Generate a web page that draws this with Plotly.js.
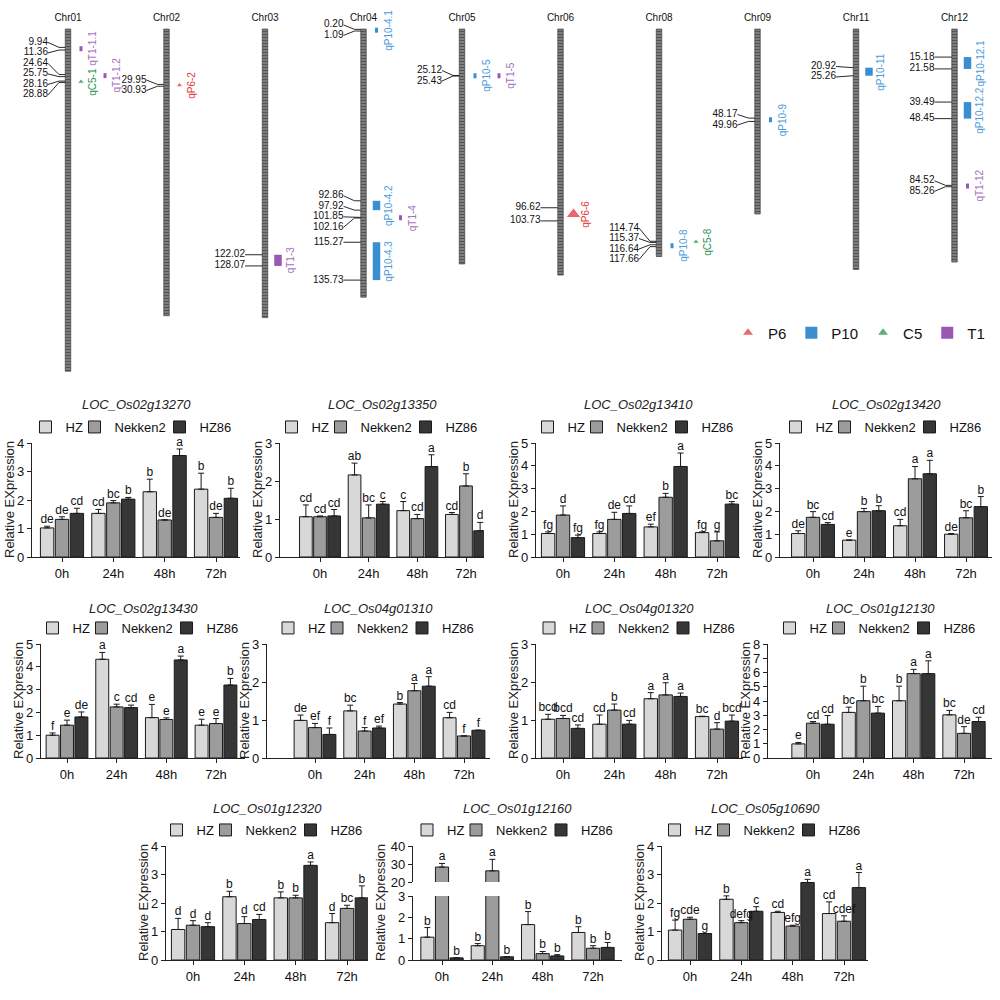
<!DOCTYPE html>
<html><head><meta charset="utf-8">
<script src="https://cdn.plot.ly/plotly-3.0.1.min.js"></script>
<style>html,body{margin:0;padding:0;background:#fff}#chart{width:1000px;height:1000px}</style>
</head><body><div id="chart"></div>
<script>
// ================= DATA: chromosome / QTL map =================
const chrNames  = ['Chr01','Chr02','Chr03','Chr04','Chr05','Chr06','Chr08','Chr09','Chr11','Chr12'];
const chrLength = [185, 155, 156, 145, 127, 133, 123, 100, 130, 126];

const qtlNames = ['qT1-1.1','qT1-1.2','qC5-1','qP6-2','qT1-3','qP10-4.1','qP10-4.2','qT1-4','qP10-4.3','qP10-5','qT1-5','qP6-6','qP10-8','qC5-8','qP10-9','qP10-11','qP10-12.1','qP10-12.2','qT1-12'];
const qtlChr   = ['Chr01','Chr01','Chr01','Chr02','Chr03','Chr04','Chr04','Chr04','Chr04','Chr05','Chr05','Chr06','Chr08','Chr08','Chr09','Chr11','Chr12','Chr12','Chr12'];
const qtlStart = [9.94, 24.64, 28.16, 29.95, 122.02, 0.20, 92.86, 101.85, 115.27, 25.12, 25.12, 96.62, 116.64, 114.74, 48.17, 20.92, 15.18, 39.49, 84.52];
const qtlEnd   = [11.36, 25.75, 28.88, 30.93, 128.07, 1.09, 97.92, 102.16, 135.73, 25.43, 25.43, 103.73, 117.66, 115.37, 49.96, 25.26, 21.58, 48.45, 85.26];
const qtlTrait = ['T1','T1','C5','P6','T1','P10','P10','T1','P10','P10','T1','P6','P10','C5','P10','P10','P10','P10','T1'];
const traitNames = ['P6','P10','C5','T1'];

// ================= DATA: relative expression =================
const timePoints = ['0h','24h','48h','72h'];
const lineNames  = ['HZ','Nekken2','HZ86'];
const genes = ['LOC_Os02g13270','LOC_Os02g13350','LOC_Os02g13410','LOC_Os02g13420',
               'LOC_Os02g13430','LOC_Os04g01310','LOC_Os04g01320','LOC_Os01g12130',
               'LOC_Os01g12320','LOC_Os01g12160','LOC_Os05g10690'];
const yMax = [4, 3, 5, 5, 5, 3, 3, 8, 4, 3, 4];
const brokenUpper = [null,null,null,null,null,null,null,null,null,[20,40],null];

const meanHZ = [
  [1.02,1.53,2.29,2.38],[1.06,2.16,1.22,1.12],[1.03,1.03,1.32,1.07],[1.03,0.74,1.37,1.00],
  [1.00,4.33,1.77,1.44],[0.99,1.24,1.42,1.06],[1.02,0.89,1.56,1.09],[0.99,3.20,4.02,3.03],
  [1.07,2.22,2.18,1.31],[1.07,0.67,1.66,1.29],[1.05,2.13,1.67,1.63]];
const errHZ = [
  [0.06,0.14,0.44,0.56],[0.31,0.31,0.24,0.05],[0.07,0.07,0.12,0.03],[0.12,0.00,0.28,0.03],
  [0.10,0.30,0.58,0.26],[0.14,0.15,0.04,0.14],[0.13,0.24,0.16,0.01],[0.10,0.37,1.02,0.31],
  [0.39,0.19,0.21,0.32],[0.45,0.10,0.61,0.27],[0.35,0.12,0.04,0.41]];
const letHZ = [
  ['de','cd','b','b'],['cd','ab','c','cd'],['fg','fg','ef','fg'],['de','e','cd','de'],
  ['f','a','e','e'],['de','bc','b','cd'],['bcd','cd','a','bc'],['e','bc','b','bc'],
  ['d','b','b','d'],['b','b','b','b'],['fg','b','cd','cd']];

const meanNekken2 = [
  [1.32,1.90,1.30,1.39],[1.06,1.03,1.01,1.87],[1.84,1.65,2.62,0.71],[1.74,1.99,3.43,1.72],
  [1.44,2.24,1.69,1.51],[0.80,0.71,1.77,0.58],[1.04,1.26,1.66,0.76],[2.44,4.02,5.92,1.73],
  [1.22,1.28,2.18,1.81],[28.3,26.2,0.30,0.55],[1.43,1.31,1.19,1.36]];
const errNekken2 = [
  [0.09,0.08,0.00,0.14],[0.02,0.34,0.11,0.32],[0.40,0.31,0.17,0.39],[0.25,0.14,0.54,0.31],
  [0.22,0.12,0.07,0.22],[0.11,0.09,0.19,0.00],[0.08,0.16,0.32,0.17],[0.12,1.02,0.30,0.47],
  [0.16,0.24,0.09,0.11],[2.0,6.4,0.10,0.12],[0.07,0.07,0.03,0.19]];
const letNekken2 = [
  ['de','bc','de','de'],['cd','bc','cd','b'],['d','de','b','g'],['bc','b','a','bc'],
  ['e','c','e','e'],['ef','f','a','f'],['bcd','b','a','d'],['cd','b','a','de'],
  ['d','d','b','bc'],['a','a','b','b'],['cde','defg','efg','cdef']];

const meanHZ86 = [
  [1.53,2.03,3.56,2.06],[1.08,1.39,2.38,0.69],[0.85,1.91,3.97,2.32],[1.43,2.03,3.65,2.21],
  [1.80,2.21,4.30,3.20],[0.62,0.79,1.89,0.73],[0.78,0.89,1.62,0.97],[2.37,3.15,5.92,2.56],
  [1.17,1.42,3.32,2.18],[0.10,0.15,0.19,0.59],[0.93,1.71,2.72,2.54]];
const errHZ86 = [
  [0.18,0.06,0.23,0.35],[0.17,0.07,0.31,0.22],[0.11,0.33,0.59,0.11],[0.08,0.22,0.59,0.44],
  [0.22,0.11,0.17,0.29],[0.17,0.05,0.25,0.00],[0.09,0.10,0.09,0.16],[0.61,0.47,0.90,0.30],
  [0.14,0.18,0.12,0.42],[0.00,0.00,0.06,0.23],[0.00,0.16,0.11,0.53]];
const letHZ86 = [
  ['cd','b','a','b'],['cd','c','a','d'],['fg','cd','a','bc'],['cd','b','a','b'],
  ['de','cd','a','b'],['f','ef','a','f'],['cd','cd','a','bcd'],['cd','bc','a','cd'],
  ['d','cd','a','b'],['b','b','b','b'],['g','c','a','a']];

// ================= LAYOUT CONSTANTS =================
const FONT = 'Arial, "Liberation Sans", sans-serif';
const W = 1000, H = 1000;
const px = v => v / W;
const py = v => 1 - v / H;
const lineColors = ['#d8d8d8', '#9c9c9c', '#363636'];
const legendEntryWidth = [4, 40, 34];
const traitColor = {P6:'#dc2a2e', P10:'#3b8fd1', C5:'#1d8a4b', T1:'#9a58b4'};
const traitLabelColor = {P6:'#e0393c', P10:'#4c9bd8', C5:'#2a9257', T1:'#a66fc2'};

// panel boxes in pixels: axis left/right, first/last group centre, top/bottom
const panels = [
  {x0:32, x1:240, c0:62,  c3:216, top:443, bottom:557, row:0},
  {x0:280,x1:484, c0:320, c3:466, top:443, bottom:557, row:0},
  {x0:536,x1:740, c0:563, c3:717, top:443, bottom:557, row:0},
  {x0:780,x1:992, c0:813, c3:966, top:443, bottom:557, row:0},
  {x0:41, x1:245, c0:67,  c3:216, top:644, bottom:758, row:1},
  {x0:267,x1:490, c0:315, c3:464, top:644, bottom:758, row:1},
  {x0:536,x1:743, c0:563, c3:717, top:644, bottom:758, row:1},
  {x0:768,x1:992, c0:813, c3:964, top:644, bottom:758, row:1},
  {x0:166,x1:368, c0:193, c3:347, top:846, bottom:960, row:2},
  {x0:413,x1:622, c0:442, c3:593, top:846, bottom:960, row:2, upperBottom:882, lowerTop:896},
  {x0:662,x1:868, c0:690, c3:844, top:846, bottom:960, row:2}
];
const rowTitleY  = [404, 608, 808];
const rowLegendY = [427, 628, 830];

const BARGAP = 0.13, BARGROUPGAP = 0.1;
const SLOT = (1 - BARGAP) / 3;

const traces = [];
const annotations = [];
const layout = {
  width: W, height: H,
  margin: {l:0, r:0, t:0, b:0},
  paper_bgcolor: '#fff', plot_bgcolor: 'rgba(0,0,0,0)',
  font: {family: FONT, color: '#111'},
  barmode: 'group', bargap: BARGAP, bargroupgap: BARGROUPGAP,
  hovermode: false,
  showlegend: true
};

const means = [meanHZ, meanNekken2, meanHZ86];
const errs  = [errHZ, errNekken2, errHZ86];
const lets  = [letHZ, letNekken2, letHZ86];

function axisStyle() {
  return {ticks:'outside', ticklen:4, tickwidth:1, tickcolor:'#222', showline:true,
          linecolor:'#222', linewidth:1.2, showgrid:false, zeroline:false,
          tickfont:{size:13, color:'#111', family:FONT}, fixedrange:true};
}

genes.forEach((gene, p) => {
  const g = panels[p];
  const s = (g.c3 - g.c0) / 3;
  const xRange = [-(g.c0 - g.x0) / s, 3 + (g.x1 - g.c3) / s];
  const n = p + 1;
  const sfx = n === 1 ? '' : String(n);
  const xr = 'x' + sfx, yr = 'y' + sfx;
  const legendId = 'legend' + sfx;
  const upper = brokenUpper[p];
  const lowTop = upper ? g.lowerTop : g.top;

  layout['xaxis' + sfx] = Object.assign(axisStyle(), {
    domain: [px(g.x0), px(g.x1)], range: xRange, anchor: yr,
    tickvals: [0,1,2,3], ticktext: timePoints
  });
  layout['yaxis' + sfx] = Object.assign(axisStyle(), {
    domain: [py(g.bottom), py(lowTop)], range: [0, yMax[p]], dtick: 1, anchor: xr
  });
  if (upper) {
    layout.xaxis12 = {domain: [px(g.x0), px(g.x1)], range: xRange, anchor: 'y12', visible: false, fixedrange: true};
    layout.yaxis12 = Object.assign(axisStyle(), {
      domain: [py(g.upperBottom), py(g.top)], range: upper, dtick: 10, anchor: 'x12'
    });
  }

  lineNames.forEach((ln, j) => {
    const base = {
      type: 'bar', name: ln, x: [0,1,2,3], y: means[j][p],
      marker: {color: lineColors[j], line: {color: '#1a1a1a', width: 1}},
      error_y: {type: 'data', symmetric: false, array: errs[j][p], arrayminus: [0,0,0,0],
                color: '#1a1a1a', thickness: 1, width: 3, visible: true},
      hoverinfo: 'skip'
    };
    traces.push(Object.assign({}, base, {xaxis: xr, yaxis: yr, legend: legendId,
      legendwidth: legendEntryWidth[j], showlegend: true}));
    if (upper) traces.push(Object.assign({}, base, {xaxis: 'x12', yaxis: 'y12', showlegend: false}));

    const lo = {x: [], y: [], t: []}, hi = {x: [], y: [], t: []};
    for (let i = 0; i < 4; i++) {
      const topV = means[j][p][i] + errs[j][p][i];
      const tgt = (upper && topV > yMax[p]) ? hi : lo;
      tgt.x.push(i + (j - 1) * SLOT); tgt.y.push(topV); tgt.t.push(lets[j][p][i]);
    }
    const mk = (d, xa, ya) => ({type: 'scatter', mode: 'text', x: d.x, y: d.y, text: d.t,
      textposition: 'top center', textfont: {size: 12, color: '#111', family: FONT},
      cliponaxis: false, showlegend: false, hoverinfo: 'skip', xaxis: xa, yaxis: ya});
    if (lo.x.length) traces.push(mk(lo, xr, yr));
    if (hi.x.length) traces.push(mk(hi, 'x12', 'y12'));
  });

  layout[legendId] = {
    orientation: 'h', x: px((g.x0 + g.x1) / 2 - 4), xanchor: 'center',
    y: py(rowLegendY[g.row]), yanchor: 'middle',
    font: {size: 13, color: '#111', family: FONT}, bgcolor: 'rgba(0,0,0,0)',
    itemwidth: 30, tracegroupgap: 0, traceorder: 'normal', itemclick: false, itemdoubleclick: false
  };

  annotations.push({xref: 'paper', yref: 'paper', x: px((g.x0 + g.x1) / 2), y: py(rowTitleY[g.row]),
    text: '<i>' + gene + '</i>', showarrow: false, xanchor: 'center', yanchor: 'middle',
    font: {size: 13, color: '#222', family: FONT}});
  annotations.push({xref: 'paper', yref: 'paper', x: px(g.x0 - (yMax[p] >= 10 || upper ? 33 : 23)),
    y: py((g.top + g.bottom) / 2), text: 'Relative EXpression', textangle: -90, showarrow: false,
    xanchor: 'center', yanchor: 'middle', font: {size: 13, color: '#222', family: FONT}});
});

// ================= MAP =================
const MAP_X0 = 68, MAP_DX = 98.5;          // pixel of Chr01 centre, spacing
const MAP_Y0 = 29, MAP_DY = 1.85;          // pixel of position 0, px per unit
const MAP_TOP = 24, MAP_BOTTOM = 380;
const PXU = 1 / MAP_DX, PYU = 1 / MAP_DY;
layout.xaxis13 = {domain: [0, 1], range: [-MAP_X0 / MAP_DX, (W - MAP_X0) / MAP_DX], anchor: 'y13',
  side: 'top', tickvals: chrNames.map((_, i) => i), ticktext: chrNames, ticks: '', showline: false,
  showgrid: false, zeroline: false, tickfont: {size: 10, color: '#111', family: FONT}, fixedrange: true};
layout.yaxis13 = {domain: [py(MAP_BOTTOM), py(MAP_TOP)],
  range: [(MAP_BOTTOM - MAP_Y0) / MAP_DY, (MAP_TOP - MAP_Y0) / MAP_DY], anchor: 'x13',
  visible: false, fixedrange: true};

const chrIdx = name => chrNames.indexOf(name);

// chromosomes
traces.push({type: 'bar', x: chrNames.map((_, i) => i), y: chrLength, base: 0,
  width: 5.5 * PXU, offset: -2.75 * PXU,
  marker: {color: '#7a7a7a', line: {color: '#2e2e2e', width: 0.6},
    pattern: {shape: '-', fgcolor: '#1a1a1a', bgcolor: '#8c8c8c', size: 3, solidity: 0.5, fillmode: 'overlay'}},
  xaxis: 'x13', yaxis: 'y13', showlegend: false, hoverinfo: 'skip'});

// column assignment for QTL labels
const colOf = [];
const colIntervals = {};
qtlNames.forEach((nm, k) => {
  const mid = (qtlStart[k] + qtlEnd[k]) / 2;
  const half = nm.length * 5 / 2 * PYU;
  const lo = mid - half, hi = mid + half;
  const cols = colIntervals[qtlChr[k]] || (colIntervals[qtlChr[k]] = [[], [], []]);
  let c = 0;
  while (cols[c].some(([a, b]) => lo < b && hi > a)) c++;
  cols[c].push([lo, hi]);
  colOf[k] = c;
});

traitNames.forEach((tr, rank) => {
  const ks = qtlNames.map((_, k) => k).filter(k => qtlTrait[k] === tr);
  const xs = ks.map(k => chrIdx(qtlChr[k]) + (13 + 24 * colOf[k]) * PXU);
  const mids = ks.map(k => (qtlStart[k] + qtlEnd[k]) / 2);
  const spans = ks.map(k => qtlEnd[k] - qtlStart[k]);
  if (tr === 'P10' || tr === 'T1') {
    const h = spans.map(sp => Math.max(sp, 5 * PYU));
    const w = spans.map(sp => (sp >= 3 ? 7.5 : 3) * PXU);
    traces.push({type: 'bar', name: tr, x: xs, y: h, base: mids.map((m, i) => m - h[i] / 2),
      width: w, offset: w.map(v => -v / 2), marker: {color: traitColor[tr]},
      xaxis: 'x13', yaxis: 'y13', legend: 'legend12', legendrank: rank + 1, showlegend: true, hoverinfo: 'skip'});
  } else {
    traces.push({type: 'scatter', mode: 'markers', name: tr, x: xs, y: mids,
      marker: {symbol: 'triangle-up', color: traitColor[tr], size: spans.map(sp => Math.max(6, sp / PYU))},
      cliponaxis: false, xaxis: 'x13', yaxis: 'y13', legend: 'legend12', legendrank: rank + 1,
      showlegend: true, hoverinfo: 'skip'});
  }
  ks.forEach((k, i) => {
    annotations.push({xref: 'x13', yref: 'y13', x: chrIdx(qtlChr[k]) + (25 + 24 * colOf[k]) * PXU, y: mids[i],
      text: qtlNames[k], textangle: -90, showarrow: false, xanchor: 'center', yanchor: 'middle',
      font: {size: 10, color: traitLabelColor[tr], family: FONT}});
  });
});

// position labels with leader lines
function spread(vals, gap) {
  let groups = vals.map(v => ({vals: [v], center: v}));
  let merged = true;
  while (merged) {
    merged = false;
    for (let k = 1; k < groups.length; k++) {
      const a = groups[k - 1], b = groups[k];
      const aEnd = a.center + (a.vals.length - 1) * gap / 2;
      const bStart = b.center - (b.vals.length - 1) * gap / 2;
      if (bStart - aEnd < gap) {
        const vs = a.vals.concat(b.vals);
        groups.splice(k - 1, 2, {vals: vs, center: vs.reduce((s, v) => s + v, 0) / vs.length});
        merged = true; break;
      }
    }
  }
  const out = [];
  groups.forEach(gr => gr.vals.forEach((v, i) => out.push(gr.center + (i - (gr.vals.length - 1) / 2) * gap)));
  return out;
}
const lx = [], ly = [], tx = [], ty = [], tt = [];
chrNames.forEach((c, ci) => {
  const set = new Set();
  qtlNames.forEach((_, k) => { if (qtlChr[k] === c) { set.add(qtlStart[k]); set.add(qtlEnd[k]); } });
  const vals = Array.from(set).sort((a, b) => a - b);
  if (!vals.length) return;
  const pos = spread(vals, 10.5 * PYU);
  vals.forEach((v, i) => {
    lx.push(ci - 20 * PXU, ci - 9 * PXU, ci - 2.75 * PXU, null);
    ly.push(pos[i], v, v, null);
    tx.push(ci - 20 * PXU); ty.push(pos[i]); tt.push(v.toFixed(2));
  });
});
traces.push({type: 'scatter', mode: 'lines', x: lx, y: ly, line: {color: '#111', width: 0.9},
  connectgaps: false, cliponaxis: false, xaxis: 'x13', yaxis: 'y13', showlegend: false, hoverinfo: 'skip'});
traces.push({type: 'scatter', mode: 'text', x: tx, y: ty, text: tt, textposition: 'middle left',
  textfont: {size: 10, color: '#111', family: FONT}, cliponaxis: false,
  xaxis: 'x13', yaxis: 'y13', showlegend: false, hoverinfo: 'skip'});

layout.legend12 = {orientation: 'h', x: 0.99, xanchor: 'right', y: py(333), yanchor: 'middle',
  font: {size: 15, color: '#111', family: FONT}, bgcolor: 'rgba(0,0,0,0)', itemsizing: 'constant',
  traceorder: 'normal', itemclick: false, itemdoubleclick: false};

layout.annotations = annotations;

Plotly.newPlot('chart', traces, layout, {displayModeBar: false, staticPlot: true});
</script>
</body></html>
